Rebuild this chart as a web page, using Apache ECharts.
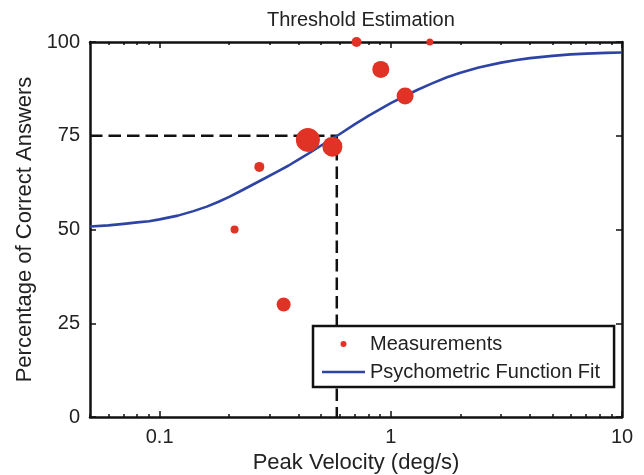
<!DOCTYPE html>
<html>
<head>
<meta charset="utf-8">
<script src="https://cdn.jsdelivr.net/npm/echarts@6/dist/echarts.min.js"></script>
<style>html,body{margin:0;padding:0;background:#fff}#c{width:644px;height:475px}</style>
</head>
<body>
<div id="c"></div>
<script>
// ---- data ----
var measX = [0.438, 0.559, 0.905, 1.153, 0.711, 1.475, 0.270, 0.211, 0.344];
var measY = [73.9, 72.1, 92.7, 85.6, 100, 100, 66.7, 50, 30];
var measWeight = [24, 20, 17, 17, 10, 7, 10, 8, 14];
var curveX = [0.05, 0.06, 0.07, 0.08, 0.09, 0.1, 0.12, 0.14, 0.16, 0.18, 0.2, 0.22, 0.25, 0.28, 0.32, 0.36, 0.4, 0.45, 0.5, 0.55, 0.6, 0.7, 0.8, 0.9, 1.0, 1.15, 1.3, 1.5, 1.75, 2.0, 2.4, 3.0, 3.5, 4.0, 5.0, 6.0, 7.0, 8.5, 10];
var curveY = [50.8, 51.1, 51.5, 51.9, 52.2, 52.7, 53.7, 54.9, 56.1, 57.4, 58.7, 60.0, 61.8, 63.4, 65.3, 67.0, 68.7, 70.6, 72.4, 74.0, 75.4, 78.1, 80.3, 82.1, 83.7, 85.6, 87.2, 88.9, 90.6, 91.8, 93.2, 94.5, 95.2, 95.7, 96.3, 96.7, 96.9, 97.1, 97.2];
var thresholdX = 0.584;
var thresholdY = 75;
var xMajorTicks = [0.1, 1, 10];
var xMinorTicks = [0.05, 0.06, 0.07, 0.08, 0.09, 0.2, 0.3, 0.4, 0.5, 0.6, 0.7, 0.8, 0.9, 2, 3, 4, 5, 6, 7, 8, 9];
var yTicks = [0, 25, 50, 75, 100];
var xMin = 0.05, xMax = 10;

var FONT = '"Liberation Sans", Arial, Helvetica, sans-serif';
var TXT = '#222';
var AX = '#111';
var RED = '#e03325';
var BLUE = '#2e44a4';

var chart = echarts.init(document.getElementById('c'), null, {renderer: 'canvas'});

function logAxis(pos, ticks, len, showLine, showLabel, extra) {
  var a = {
    type: 'log', logBase: 10, min: xMin, max: xMax, position: pos, gridIndex: 0,
    axisLine: {show: showLine, onZero: false, lineStyle: {color: AX, width: 2.5}},
    axisTick: {show: true, inside: true, length: len, customValues: ticks, lineStyle: {color: AX, width: 1.5}},
    axisLabel: {show: showLabel, customValues: xMajorTicks, margin: 10, color: TXT, fontFamily: FONT, fontSize: 20,
      formatter: function (v) { return String(+(+v).toPrecision(6)); }},
    splitLine: {show: false}, minorTick: {show: false}
  };
  if (extra) for (var k in extra) a[k] = extra[k];
  return a;
}

var measData = measX.map(function (x, i) { return [x, measY[i], measWeight[i]]; });
var curveData = curveX.map(function (x, i) { return [x, curveY[i]]; });
var threshData = [[xMin, thresholdY], [thresholdX, thresholdY], [thresholdX, 0]];

var option = {
  animation: false,
  backgroundColor: '#fff',
  title: {
    text: 'Threshold Estimation', left: 262, top: 5,
    textStyle: {fontFamily: FONT, fontSize: 20, fontWeight: 'normal', color: TXT}
  },
  grid: {left: 90, right: 22, top: 42, bottom: 58, containLabel: false, outerBoundsMode: 'none'},
  xAxis: [
    logAxis('bottom', xMajorTicks, 6, true, true, {
      name: 'Peak Velocity (deg/s)', nameLocation: 'middle', nameGap: 33,
      nameTextStyle: {fontFamily: FONT, fontSize: 22, color: TXT}
    }),
    logAxis('bottom', xMinorTicks, 3, false, false),
    logAxis('top', xMajorTicks, 6, true, false),
    logAxis('top', xMinorTicks, 3, false, false)
  ],
  yAxis: [
    {
      type: 'value', min: 0, max: 100, interval: 25, position: 'left',
      axisLine: {show: true, onZero: false, lineStyle: {color: AX, width: 2.5}},
      axisTick: {show: true, inside: true, length: 6, lineStyle: {color: AX, width: 1.5}},
      axisLabel: {margin: 10, color: TXT, fontFamily: FONT, fontSize: 20,
        formatter: function (v) { return yTicks.indexOf(v) >= 0 ? String(v) : ''; }},
      splitLine: {show: false},
      name: 'Percentage of Correct Answers', nameLocation: 'middle', nameGap: 49, nameRotate: 90,
      nameTextStyle: {fontFamily: FONT, fontSize: 22, color: TXT}
    },
    {
      type: 'value', min: 0, max: 100, interval: 25, position: 'right',
      axisLine: {show: true, onZero: false, lineStyle: {color: AX, width: 2.5}},
      axisTick: {show: true, inside: true, length: 6, lineStyle: {color: AX, width: 1.5}},
      axisLabel: {show: false}, splitLine: {show: false}
    }
  ],
  legend: {
    data: [
      {name: 'Measurements', icon: 'circle'},
      {name: 'Psychometric Function Fit', icon: 'path://M0 0H43V2.5H0Z'}
    ],
    orient: 'vertical', left: 313, top: 326,
    padding: [8, 14, 5, 9], itemGap: 8, itemWidth: 43, itemHeight: 6,
    backgroundColor: '#fff', borderColor: '#111', borderWidth: 2.5, borderRadius: 0,
    textStyle: {fontFamily: FONT, fontSize: 20, color: TXT, lineHeight: 20},
    selectedMode: false
  },
  series: [
    {
      name: 'threshold', type: 'line', xAxisIndex: 0, yAxisIndex: 0,
      data: threshData, symbol: 'none', silent: true,
      lineStyle: {color: '#111', width: 2.5, type: [12.5, 6]}, z: 2
    },
    {
      name: 'Psychometric Function Fit', type: 'line', xAxisIndex: 0, yAxisIndex: 0,
      data: curveData, symbol: 'none', smooth: false,
      lineStyle: {color: BLUE, width: 2.6, join: 'round'}, itemStyle: {color: BLUE}, z: 3
    },
    {
      name: 'Measurements', type: 'scatter', xAxisIndex: 0, yAxisIndex: 0,
      data: measData, symbol: 'circle',
      symbolSize: function (v) { return v[2]; },
      itemStyle: {color: RED, opacity: 1}, z: 4
    }
  ]
};
chart.setOption(option);
</script>
</body>
</html>
